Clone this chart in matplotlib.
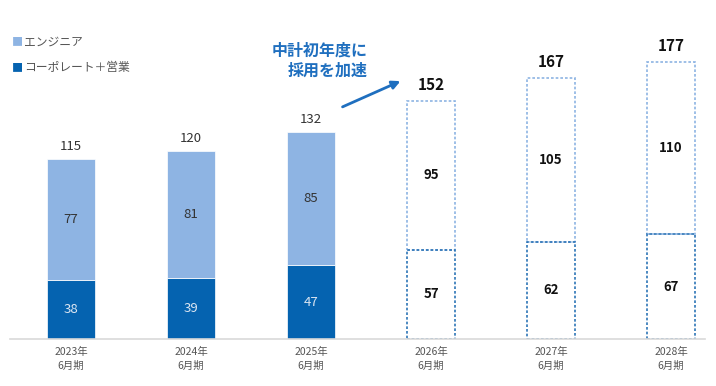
import numpy as np
import matplotlib.pyplot as plt
import matplotlib as mpl

mpl.rcParams['font.family'] = ['Noto Sans CJK JP', 'DejaVu Sans']

# データ
years = ['2023年\n6月期', '2024年\n6月期', '2025年\n6月期', '2026年\n6月期', '2027年\n6月期', '2028年\n6月期']
corp = [38, 39, 47, 57, 62, 67]        # コーポレート＋営業
eng = [77, 81, 85, 95, 105, 110]       # エンジニア
is_plan = [False, False, False, True, True, True]

light = '#8EB4E3'
dark = '#0563B0'
plan_dark = '#2E75B6'

fig = plt.figure(figsize=(7.16, 3.86), dpi=100)
ax = fig.add_axes([10 / 716, 47 / 386, 695 / 716, 339 / 386])
ax.set_xlim(-61 / 120, 634 / 120)
ax.set_ylim(0, 339 / 1.565)

x = np.arange(len(years))
w = 0.4
for i in x:
    c, e = corp[i], eng[i]
    total = c + e
    if not is_plan[i]:
        ax.bar(i, c, width=w, color=dark, edgecolor='white', linewidth=0.5)
        ax.bar(i, e, bottom=c, width=w, color=light, edgecolor='white', linewidth=0.5)
        ax.text(i, c / 2, str(c), ha='center', va='center', fontsize=9.5, color='#DCE6F2')
        ax.text(i, c + e / 2, str(e), ha='center', va='center', fontsize=9.5, color='#333333')
        ax.text(i, total + 4, str(total), ha='center', va='bottom', fontsize=9.5, color='#333333')
    else:
        ax.bar(i, e, bottom=c, width=w, facecolor='none', edgecolor=light,
               linewidth=1.2, linestyle=(0, (1.6, 1.2)))
        ax.bar(i, c, width=w, facecolor='none', edgecolor=plan_dark,
               linewidth=1.2, linestyle=(0, (1.6, 1.2)))
        ax.text(i, c / 2, str(c), ha='center', va='center', fontsize=9.5,
                color='#111111', fontweight='bold')
        ax.text(i, c + e / 2, str(e), ha='center', va='center', fontsize=9.5,
                color='#111111', fontweight='bold')
        ax.text(i, total + 5, str(total), ha='center', va='bottom', fontsize=11,
                color='#111111', fontweight='bold')

for s in ['top', 'right', 'left']:
    ax.spines[s].set_visible(False)
ax.spines['bottom'].set_color('#D9D9D9')
ax.spines['bottom'].set_linewidth(1.2)
ax.set_yticks([])
ax.set_xticks(x)
ax.set_xticklabels(years, fontsize=7.5, color='#555555', linespacing=1.45)
ax.tick_params(axis='x', length=0, pad=6)

# 凡例
fig.text(12 / 716, 1 - 42 / 386, '■', color=light, fontsize=8, va='center')
fig.text(24 / 716, 1 - 42 / 386, 'エンジニア', color='#555555', fontsize=8.5, va='center')
fig.text(12 / 716, 1 - 68 / 386, '■', color=dark, fontsize=8, va='center')
fig.text(24 / 716, 1 - 68 / 386, 'コーポレート＋営業', color='#555555', fontsize=8.5, va='center')

# 注釈
fig.text(368 / 716, 1 - 61 / 386, '中計初年度に\n採用を加速', color='#1F6FBF', fontsize=11.5,
         fontweight='bold', ha='right', va='center', multialignment='right', linespacing=1.3)
ax.annotate('', xy=(403 / 716, 1 - 80 / 386), xytext=(340 / 716, 1 - 108 / 386),
            xycoords='figure fraction', textcoords='figure fraction',
            arrowprops=dict(arrowstyle='-|>', color='#1F6FBF', lw=2, mutation_scale=12))

fig.savefig('out.png', dpi=100)
